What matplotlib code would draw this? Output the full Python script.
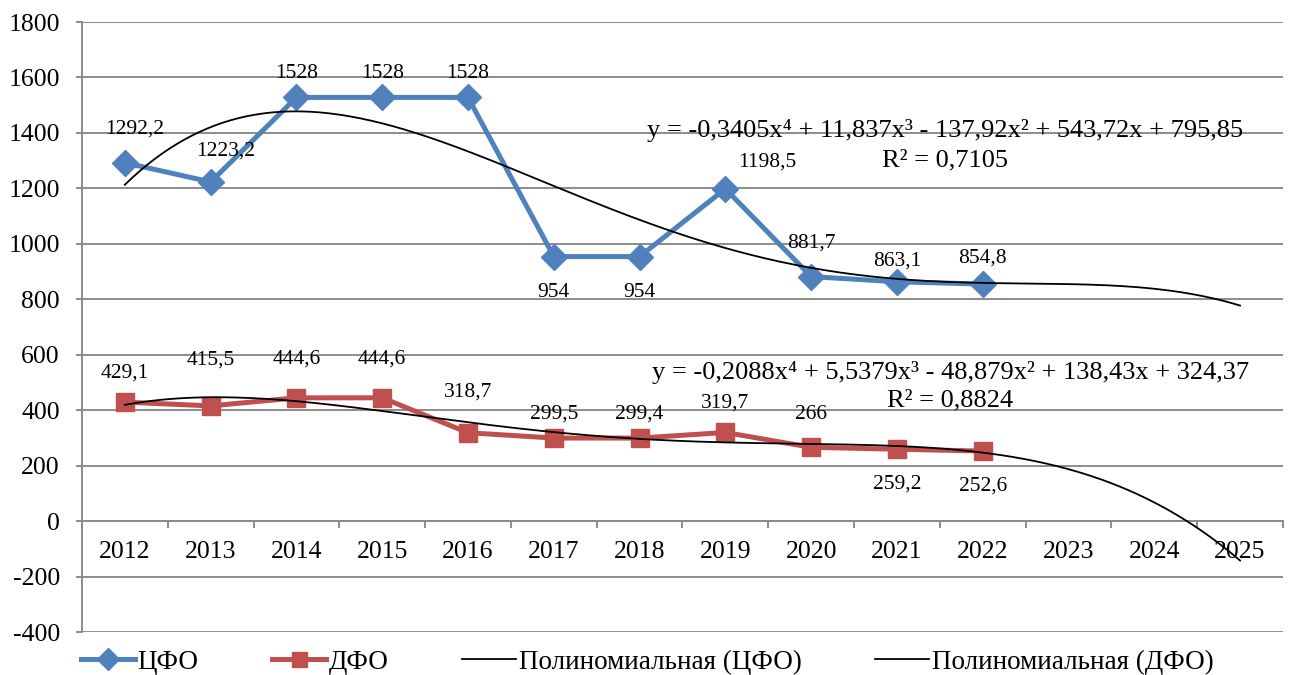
import numpy as np
import matplotlib
matplotlib.use("Agg")
import matplotlib.pyplot as plt
from matplotlib.ticker import FixedLocator, NullFormatter, FixedFormatter

plt.rcParams['font.family'] = ['Liberation Serif', 'DejaVu Serif']
plt.rcParams['axes.unicode_minus'] = False

years = ['2012', '2013', '2014', '2015', '2016', '2017', '2018', '2019',
         '2020', '2021', '2022', '2023', '2024', '2025']
cfo = [1292.2, 1223.2, 1528, 1528, 1528, 954, 954, 1198.5, 881.7, 863.1, 854.8]
dfo = [429.1, 415.5, 444.6, 444.6, 318.7, 299.5, 299.4, 319.7, 266, 259.2, 252.6]
cfo_labels = ['1292,2', '1223,2', '1528', '1528', '1528', '954', '954', '1198,5',
              '881,7', '863,1', '854,8']
dfo_labels = ['429,1', '415,5', '444,6', '444,6', '318,7', '299,5', '299,4', '319,7',
              '266', '259,2', '252,6']
cfo_eq = 'y = -0,3405x⁴ + 11,837x³ - 137,92x² + 543,72x + 795,85'
cfo_r2 = 'R² = 0,7105'
dfo_eq = 'y = -0,2088x⁴ + 5,5379x³ - 48,879x² + 138,43x + 324,37'
dfo_r2 = 'R² = 0,8824'
legend_labels = ['ЦФО', 'ДФО', 'Полиномиальная (ЦФО)', 'Полиномиальная (ДФО)']

# label offsets in points (dx, dy)
cfo_off = [(7, 24), (11, 22), (0, 17), (0, 17), (0, 17), (0, -26), (0, -26), (30, 19),
           (0, 24), (0, 15), (0, 19)]
dfo_off = [(0, 21), (0, 33), (0, 28), (0, 28), (0, 29), (0, 17), (0, 17), (0, 21),
           (0, 24), (0, -25), (0, -25)]

BLUE = '#4F81BD'
RED = '#C0504D'
GRID = '#8C8C8C'

fig = plt.figure(figsize=(12.89, 6.75), dpi=100)
ax = fig.add_axes([0.0636, 0.0637, 0.9317, 0.9037])

n = len(years)
x_all = np.arange(1, n + 1)
x_data = np.arange(1, len(cfo) + 1)

ax.set_xlim(0.5, n + 0.5)
ax.set_ylim(-400, 1800)
ax.set_yticks(np.arange(-400, 1801, 200))
ax.grid(axis='y', color=GRID, linewidth=1.4)
ax.set_axisbelow(True)

for s in ['top', 'right']:
    ax.spines[s].set_visible(False)
ax.spines['left'].set_color(GRID)
ax.spines['left'].set_linewidth(1.4)
ax.spines['bottom'].set_position(('data', 0))
ax.spines['bottom'].set_color(GRID)
ax.spines['bottom'].set_linewidth(1.4)

ax.xaxis.set_major_locator(FixedLocator(np.arange(0.5, n + 1, 1.0)))
ax.xaxis.set_major_formatter(NullFormatter())
ax.xaxis.set_minor_locator(FixedLocator(x_all))
ax.xaxis.set_minor_formatter(FixedFormatter(years))
ax.tick_params(axis='x', which='major', length=5, width=1.4, color=GRID, direction='out')
ax.tick_params(axis='x', which='minor', length=0, labelsize=18.5, pad=14)
ax.tick_params(axis='y', length=4, width=1.4, color=GRID, labelsize=18.5, pad=12)

# series
l1, = ax.plot(x_data, cfo, color=BLUE, linewidth=3.6, marker='D', markersize=13.5,
              markeredgecolor=BLUE, zorder=3)
l2, = ax.plot(x_data, dfo, color=RED, linewidth=3.6, marker='s', markersize=13.5,
              markeredgecolor=RED, zorder=3)

# polynomial trend lines (order 4), forecast 3 periods
xs = np.linspace(1, n, 300)
p_c = np.polyfit(x_data, cfo, 4)
p_d = np.polyfit(x_data, dfo, 4)
t1, = ax.plot(xs, np.polyval(p_c, xs), color='black', linewidth=1.3, zorder=4)
t2, = ax.plot(xs, np.polyval(p_d, xs), color='black', linewidth=1.3, zorder=4)

for xv, yv, lab, off in zip(x_data, cfo, cfo_labels, cfo_off):
    ax.annotate(lab, (xv, yv), xytext=off, textcoords='offset points',
                ha='center', va='center', fontsize=15.5)
for xv, yv, lab, off in zip(x_data, dfo, dfo_labels, dfo_off):
    ax.annotate(lab, (xv, yv), xytext=off, textcoords='offset points',
                ha='center', va='center', fontsize=15.5)

ax.text(10.56, 1410, cfo_eq, ha='center', va='center', fontsize=19, zorder=5)
ax.text(10.56, 1300, cfo_r2, ha='center', va='center', fontsize=19, zorder=5)
ax.text(10.62, 537, dfo_eq, ha='center', va='center', fontsize=19, zorder=5)
ax.text(10.62, 436, dfo_r2, ha='center', va='center', fontsize=19, zorder=5)

leg = fig.legend([l1, l2, t1, t2], legend_labels, loc='center', bbox_to_anchor=(0.502, 0.019),
                 ncol=4, frameon=False, fontsize=19.5, handlelength=2.0, handletextpad=0.1,
                 columnspacing=2.7, borderaxespad=0, markerscale=0.8)

fig.savefig('out.png', dpi=100)
